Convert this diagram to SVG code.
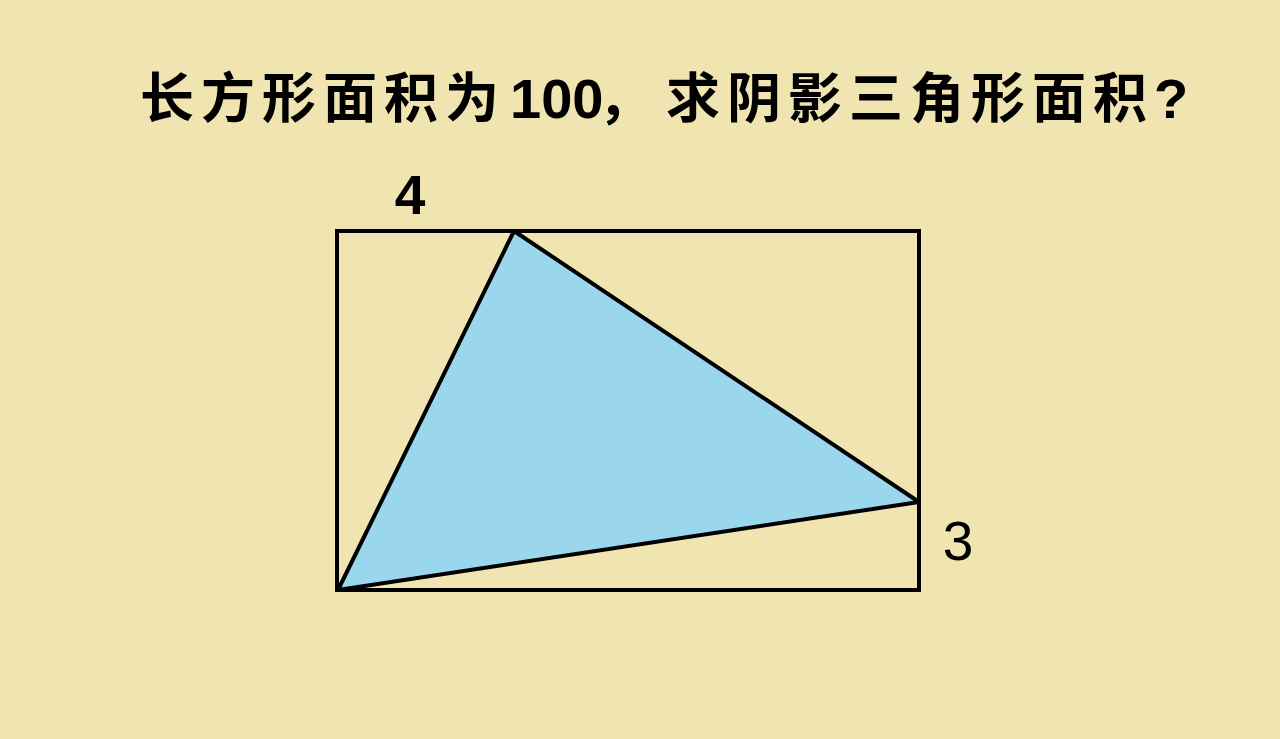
<svg xmlns="http://www.w3.org/2000/svg" width="1280" height="739" viewBox="0 0 1280 739">
<style>
.title{font-family:"Noto Sans CJK SC","Liberation Sans",sans-serif;font-size:54px;font-weight:bold;fill:#000;letter-spacing:7px}
.digits{font-family:"Liberation Sans",Arial,sans-serif;letter-spacing:0}
.num{font-family:"Liberation Sans",Arial,sans-serif;font-size:55px;fill:#000;text-anchor:middle}
.edge{fill:none;stroke:#000;stroke-width:4;stroke-linejoin:miter}
</style>
<rect x="0" y="0" width="1280" height="739" fill="#F0E4B0"/>
<text class="title" y="118"><tspan x="140">长方形面积为</tspan><tspan class="digits" x="510" font-size="56">100</tspan><tspan x="598">，</tspan><tspan x="666">求阴影三角形面积</tspan><tspan class="digits" x="1154" font-size="56">?</tspan></text>
<g id="shaded-triangle">
<polygon points="514,231 919,502 338,590" fill="#9AD7EC" stroke="#000" stroke-width="4" stroke-linejoin="round"/>
</g>
<g id="rectangle">
<rect class="edge" x="337" y="231" width="582" height="359"/>
</g>
<text class="num" x="410" y="214" font-weight="bold">4</text>
<text class="num" x="958" y="560">3</text>
</svg>
